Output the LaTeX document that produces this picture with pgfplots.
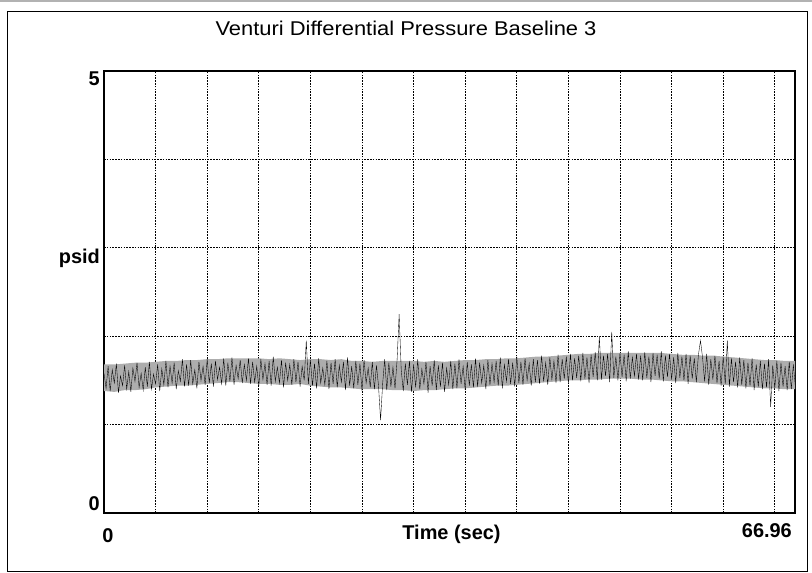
\documentclass[border=0pt]{standalone}
\usepackage{pgfplots}
\pgfplotsset{compat=1.18}
\usepackage{pgfplotstable}
\usepackage{fontspec}
\setmainfont{Liberation Sans}

% Venturi differential pressure (psid), one sample every 0.2 s
\pgfplotstableread[row sep=\\]{
p\\
1.58\\ 1.41\\ 1.66\\ 1.38\\ 1.62\\ 1.47\\ 1.69\\ 1.36\\ 1.55\\ 1.44\\
1.67\\ 1.40\\ 1.60\\ 1.37\\ 1.64\\ 1.49\\ 1.70\\ 1.42\\ 1.58\\ 1.39\\
1.65\\ 1.43\\ 1.71\\ 1.40\\ 1.57\\ 1.46\\ 1.68\\ 1.38\\ 1.63\\ 1.45\\
1.72\\ 1.42\\ 1.66\\ 1.47\\ 1.70\\ 1.40\\ 1.61\\ 1.49\\ 1.74\\ 1.43\\
1.68\\ 1.44\\ 1.73\\ 1.46\\ 1.62\\ 1.41\\ 1.71\\ 1.50\\ 1.66\\ 1.45\\
1.74\\ 1.47\\ 1.69\\ 1.43\\ 1.72\\ 1.51\\ 1.65\\ 1.46\\ 1.75\\ 1.44\\
1.70\\ 1.49\\ 1.76\\ 1.45\\ 1.67\\ 1.52\\ 1.73\\ 1.47\\ 1.68\\ 1.50\\
1.75\\ 1.46\\ 1.71\\ 1.48\\ 1.66\\ 1.43\\ 1.74\\ 1.51\\ 1.69\\ 1.45\\
1.72\\ 1.44\\ 1.77\\ 1.49\\ 1.65\\ 1.47\\ 1.73\\ 1.42\\ 1.70\\ 1.50\\
1.68\\ 1.45\\ 1.74\\ 1.48\\ 1.71\\ 1.43\\ 1.66\\ 1.50\\ 1.95\\ 1.46\\
1.73\\ 1.44\\ 1.69\\ 1.41\\ 1.75\\ 1.47\\ 1.64\\ 1.45\\ 1.72\\ 1.40\\
1.70\\ 1.46\\ 1.74\\ 1.42\\ 1.67\\ 1.48\\ 1.71\\ 1.39\\ 1.76\\ 1.44\\
1.66\\ 1.41\\ 1.72\\ 1.45\\ 1.69\\ 1.38\\ 1.73\\ 1.47\\ 1.64\\ 1.42\\
1.71\\ 1.40\\ 1.67\\ 1.44\\ 1.05\\ 1.46\\ 1.74\\ 1.39\\ 1.70\\ 1.43\\
1.65\\ 1.41\\ 1.73\\ 2.25\\ 1.62\\ 1.38\\ 1.69\\ 1.45\\ 1.72\\ 1.37\\
1.68\\ 1.42\\ 1.74\\ 1.40\\ 1.63\\ 1.46\\ 1.71\\ 1.36\\ 1.66\\ 1.44\\
1.73\\ 1.39\\ 1.67\\ 1.43\\ 1.70\\ 1.37\\ 1.64\\ 1.45\\ 1.72\\ 1.40\\
1.69\\ 1.41\\ 1.74\\ 1.46\\ 1.66\\ 1.39\\ 1.71\\ 1.44\\ 1.68\\ 1.42\\
1.75\\ 1.43\\ 1.70\\ 1.47\\ 1.67\\ 1.40\\ 1.73\\ 1.45\\ 1.69\\ 1.48\\
1.72\\ 1.44\\ 1.76\\ 1.41\\ 1.68\\ 1.49\\ 1.74\\ 1.46\\ 1.70\\ 1.43\\
1.77\\ 1.47\\ 1.71\\ 1.45\\ 1.75\\ 1.50\\ 1.69\\ 1.44\\ 1.74\\ 1.48\\
1.73\\ 1.46\\ 1.78\\ 1.49\\ 1.70\\ 1.45\\ 1.76\\ 1.51\\ 1.72\\ 1.47\\
1.79\\ 1.48\\ 1.74\\ 1.52\\ 1.77\\ 1.46\\ 1.80\\ 1.50\\ 1.75\\ 1.53\\
1.78\\ 1.49\\ 1.81\\ 1.52\\ 1.76\\ 1.47\\ 1.79\\ 1.54\\ 1.82\\ 1.50\\
2.00\\ 1.51\\ 1.78\\ 1.55\\ 1.80\\ 1.48\\ 2.05\\ 1.53\\ 1.77\\ 1.50\\
1.81\\ 1.54\\ 1.79\\ 1.49\\ 1.83\\ 1.52\\ 1.76\\ 1.55\\ 1.80\\ 1.51\\
1.78\\ 1.50\\ 1.82\\ 1.53\\ 1.77\\ 1.48\\ 1.81\\ 1.55\\ 1.79\\ 1.52\\
1.83\\ 1.49\\ 1.78\\ 1.54\\ 1.80\\ 1.51\\ 1.76\\ 1.47\\ 1.81\\ 1.53\\
1.77\\ 1.50\\ 1.80\\ 1.46\\ 1.78\\ 1.52\\ 1.75\\ 1.48\\ 1.79\\ 1.95\\
1.76\\ 1.49\\ 1.80\\ 1.45\\ 1.74\\ 1.51\\ 1.78\\ 1.47\\ 1.72\\ 1.44\\
1.77\\ 1.46\\ 1.95\\ 1.43\\ 1.75\\ 1.48\\ 1.71\\ 1.42\\ 1.76\\ 1.45\\
1.73\\ 1.41\\ 1.70\\ 1.44\\ 1.75\\ 1.39\\ 1.68\\ 1.43\\ 1.72\\ 1.40\\
1.69\\ 1.42\\ 1.74\\ 1.20\\ 1.67\\ 1.41\\ 1.72\\ 1.38\\ 1.70\\ 1.43\\
1.66\\ 1.39\\ 1.71\\ 1.40\\ 1.68\\ 1.42\\
}\pressure

% outline of the dense core of the noise band:
% upper edge forward in time, lower edge back
\pgfplotstableread[row sep=\\]{
t y\\
0 1.68\\ 1 1.68\\ 2 1.69\\ 3 1.70\\ 4 1.70\\ 5 1.71\\ 6 1.72\\ 7 1.72\\
8 1.73\\ 9 1.73\\ 10 1.74\\ 11 1.74\\ 12 1.75\\ 13 1.75\\ 14 1.75\\ 15 1.75\\
16 1.74\\ 17 1.75\\ 18 1.74\\ 19 1.73\\ 20 1.74\\ 21 1.74\\ 22 1.73\\ 23 1.74\\
24 1.72\\ 25 1.72\\ 26 1.71\\ 27 1.72\\ 28 1.72\\ 29 1.72\\ 30 1.72\\ 31 1.71\\
32 1.72\\ 33 1.71\\ 34 1.72\\ 35 1.73\\ 36 1.73\\ 37 1.74\\ 38 1.74\\ 39 1.75\\
40 1.75\\ 41 1.76\\ 42 1.77\\ 43 1.77\\ 44 1.78\\ 45 1.79\\ 46 1.80\\ 47 1.80\\
48 1.81\\ 49 1.81\\ 50 1.81\\ 51 1.81\\ 52 1.81\\ 53 1.81\\ 54 1.81\\ 55 1.80\\
56 1.79\\ 57 1.79\\ 58 1.78\\ 59 1.78\\ 60 1.77\\ 61 1.76\\ 62 1.75\\ 63 1.74\\
64 1.73\\ 65 1.73\\ 66 1.72\\ 67 1.72\\
67 1.40\\ 66 1.40\\ 65 1.41\\ 64 1.41\\ 63 1.42\\ 62 1.43\\ 61 1.44\\ 60 1.45\\
59 1.46\\ 58 1.47\\ 57 1.48\\ 56 1.49\\ 55 1.49\\ 54 1.50\\ 53 1.51\\ 52 1.51\\
51 1.52\\ 50 1.52\\ 49 1.52\\ 48 1.51\\ 47 1.51\\ 46 1.50\\ 45 1.50\\ 44 1.49\\
43 1.48\\ 42 1.47\\ 41 1.46\\ 40 1.45\\ 39 1.44\\ 38 1.44\\ 37 1.43\\ 36 1.42\\
35 1.41\\ 34 1.41\\ 33 1.40\\ 32 1.39\\ 31 1.39\\ 30 1.38\\ 29 1.39\\ 28 1.39\\
27 1.40\\ 26 1.40\\ 25 1.40\\ 24 1.41\\ 23 1.42\\ 22 1.42\\ 21 1.43\\ 20 1.44\\
19 1.46\\ 18 1.45\\ 17 1.45\\ 16 1.46\\ 15 1.46\\ 14 1.47\\ 13 1.48\\ 12 1.48\\
11 1.47\\ 10 1.46\\ 9 1.45\\ 8 1.44\\ 7 1.44\\ 6 1.43\\ 5 1.42\\ 4 1.40\\
3 1.39\\ 2 1.39\\ 1 1.37\\ 0 1.38\\
}\band

\newcommand{\lbl}{\fontsize{20}{24}\selectfont\bfseries}

\begin{document}
\begin{tikzpicture}[x=1bp,y=1bp]
\useasboundingbox (0,0) rectangle (812,573);
\draw[gray!60, line width=2bp] (0,572) -- (812,572);
\draw[line width=0.9bp] (7,2) rectangle (807,562);
\node[inner sep=0pt] at (406,545)
  {\scalebox{1.1}[1]{\fontsize{20}{24}\selectfont Venturi Differential Pressure Baseline 3}};
\begin{axis}[
  name=ax,
  at={(104bp,60bp)}, anchor=south west,
  width=691bp, height=442bp, scale only axis,
  xmin=0, xmax=66.96, ymin=0, ymax=5,
  xtick={5,10,...,65}, ytick={1,2,3,4},
  xticklabels={}, yticklabels={},
  major tick length=0pt,
  grid=major,
  grid style={black, line width=0.8bp, dash pattern=on 1.6bp off 1.2bp},
  axis line style={black, line width=1.1bp},
]
\addplot[draw=none, fill=black!32] table[x=t, y=y] {\band};
\addplot[black, line width=0.35pt, mark=none]
  table[x expr={\coordindex*0.2}, y=p] {\pressure};
\end{axis}
% axis labels: only the ends of each axis are numbered
\node[font=\lbl, anchor=north east, inner sep=0pt] at ([xshift=-4bp, yshift=-1bp]ax.north west) {5};
\node[font=\lbl, anchor=east, inner sep=0pt] at ([xshift=-4bp, yshift=254.6bp]ax.south west) {psid};
\node[font=\lbl, anchor=south east, inner sep=0pt] at ([xshift=-4bp, yshift=2bp]ax.south west) {0};
\node[font=\lbl, anchor=north, inner sep=0pt] at ([xshift=4bp, yshift=-15bp]ax.south west) {0};
\node[font=\lbl, anchor=north, inner sep=0pt] at ([xshift=2bp, yshift=-12bp]ax.south) {Time (sec)};
\node[font=\lbl, anchor=north east, inner sep=0pt] at ([xshift=-3bp, yshift=-10bp]ax.south east) {66.96};
\end{tikzpicture}
\end{document}
